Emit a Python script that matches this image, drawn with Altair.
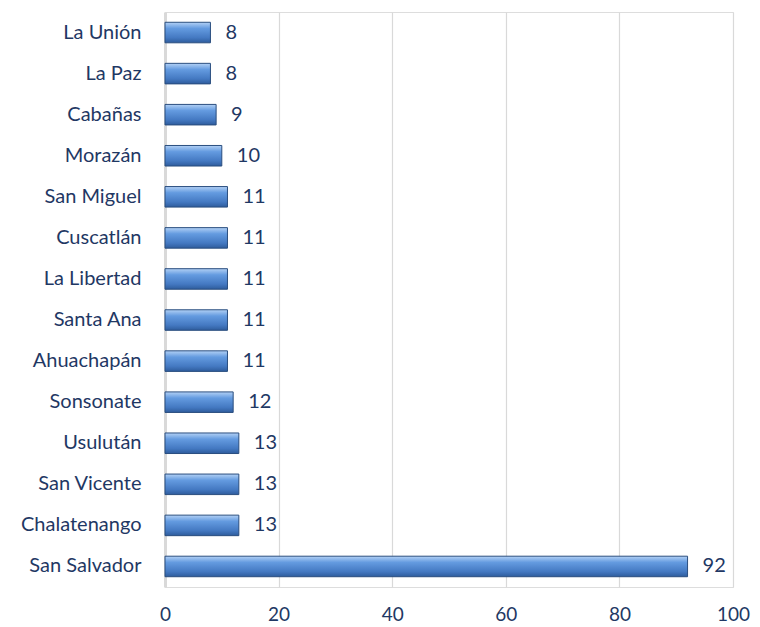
import altair as alt
import pandas as pd

departamentos = ["La Unión", "La Paz", "Cabañas", "Morazán", "San Miguel", "Cuscatlán",
                 "La Libertad", "Santa Ana", "Ahuachapán", "Sonsonate", "Usulután",
                 "San Vicente", "Chalatenango", "San Salvador"]
valores = [8, 8, 9, 10, 11, 11, 11, 11, 11, 12, 13, 13, 13, 92]
x_ticks = [0, 20, 40, 60, 80, 100]

df = pd.DataFrame({"dep": departamentos, "val": valores})

navy = "#1F3864"
font = "Lato"

gradient = alt.Gradient(
    gradient="linear",
    stops=[
        alt.GradientStop(color="#B3D1F5", offset=0),
        alt.GradientStop(color="#649BE0", offset=0.3),
        alt.GradientStop(color="#4479C2", offset=0.75),
        alt.GradientStop(color="#2E5C9C", offset=1),
    ],
    x1=0, x2=0, y1=0, y2=1,
)

y_enc = alt.Y("dep:N", sort=departamentos, title=None,
              scale=alt.Scale(paddingInner=0.5, paddingOuter=0.25),
              axis=alt.Axis(labelFont=font, labelFontSize=20, labelColor=navy,
                            labelPadding=24, ticks=False, domain=True,
                            domainColor="#D9D9D9", domainWidth=3, grid=False))
x_enc = alt.X("val:Q", title=None,
              scale=alt.Scale(domain=[0, 100], nice=False),
              axis=alt.Axis(values=x_ticks, labelFont=font, labelFontSize=19,
                            labelColor=navy, labelPadding=18, ticks=False,
                            labelFlush=False,
                            domain=False, grid=True, gridColor="#D9D9D9",
                            gridWidth=1.2))

base = alt.Chart(df)

bars = base.mark_bar(fill=gradient, stroke="#2A4E7F", strokeWidth=1).encode(
    x=x_enc, y=y_enc)

labels = base.mark_text(align="left", baseline="middle", dx=15, font=font,
                        fontSize=20, color=navy).encode(
    x="val:Q", y=alt.Y("dep:N", sort=departamentos), text="val:Q")

chart = alt.layer(bars, labels).properties(
    width=568, height=575,
    autosize=alt.AutoSizeParams(type="none"),
    padding={"left": 157, "top": 4, "right": 19, "bottom": 40},
).configure_view(stroke=None).configure(background="white")

chart.save("out.html", embed_options={"renderer": "svg", "actions": False})
